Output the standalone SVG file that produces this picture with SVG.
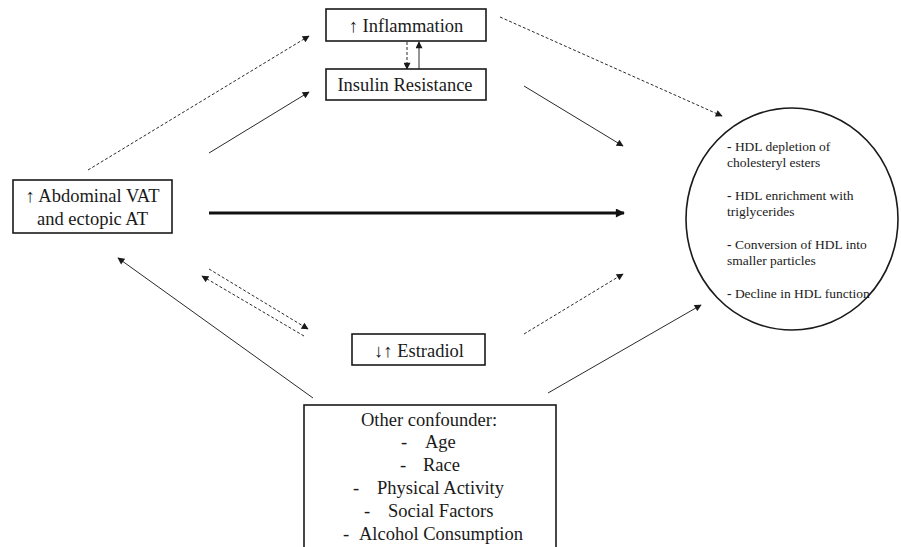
<svg xmlns="http://www.w3.org/2000/svg" width="901" height="547" viewBox="0 0 901 547">
<defs>
<marker id="ah" viewBox="0 0 10 10" refX="9" refY="5" markerWidth="8" markerHeight="7" markerUnits="userSpaceOnUse" orient="auto">
<path d="M0,0 L10,5 L0,10 z" fill="#1a1a1a"/>
</marker>
<marker id="ahb" viewBox="0 0 10 10" refX="9" refY="5" markerWidth="11" markerHeight="9" markerUnits="userSpaceOnUse" orient="auto">
<path d="M0,0 L10,5 L0,10 z" fill="#111"/>
</marker>
<style>
.box{fill:#fff;stroke:#1a1a1a;stroke-width:1.6}
.t{font-family:"Liberation Serif","Times New Roman",serif;font-size:18.5px;fill:#1a1a1a}
.s{font-family:"Liberation Serif","Times New Roman",serif;font-size:13.5px;fill:#1a1a1a}
.c{fill:none;stroke:#2a2a2a;stroke-width:1;marker-end:url(#ah)}
.d{stroke-dasharray:3 2}
</style>
</defs>
<rect width="901" height="547" fill="#fff"/>

<g id="connectors">
<line class="c d" x1="88" y1="170" x2="309" y2="36"/>
<line class="c" x1="209" y1="153" x2="309" y2="92"/>
<line class="c d" x1="407" y1="42" x2="407" y2="69"/>
<line class="c" x1="419" y1="69" x2="419" y2="42"/>
<line class="c d" x1="500" y1="17" x2="722" y2="116"/>
<line class="c" x1="524" y1="86" x2="623" y2="146"/>
<line x1="209" y1="213" x2="624" y2="213" stroke="#111" stroke-width="3" marker-end="url(#ahb)"/>
<line class="c d" x1="209" y1="269" x2="308" y2="329"/>
<line class="c d" x1="304" y1="336" x2="202" y2="276"/>
<line class="c d" x1="524" y1="334" x2="623" y2="274"/>
<line class="c" x1="313" y1="398" x2="118" y2="258"/>
<line class="c" x1="548" y1="393" x2="701" y2="305"/>
</g>

<g id="inflammation">
<rect class="box" x="326" y="9" width="160" height="32"/>
<text class="t" x="406" y="32" text-anchor="middle">↑ Inflammation</text>
</g>

<g id="insulin">
<rect class="box" x="326" y="69" width="160" height="31"/>
<text class="t" x="405" y="91" text-anchor="middle">Insulin Resistance</text>
</g>

<g id="abdominal">
<rect class="box" x="13" y="180" width="159" height="53"/>
<text class="t" x="92.5" y="202" text-anchor="middle">↑ Abdominal VAT</text>
<text class="t" x="92.5" y="225" text-anchor="middle">and ectopic AT</text>
</g>

<g id="estradiol">
<rect class="box" x="352" y="334" width="133" height="31"/>
<text class="t" x="419" y="357" text-anchor="middle">↓↑ Estradiol</text>
</g>

<g id="hdl">
<ellipse cx="792" cy="219" rx="106" ry="111" fill="#fff" stroke="#1a1a1a" stroke-width="1.6"/>
<text class="s" x="727" y="151"><tspan font-weight="bold">-</tspan> HDL depletion of</text>
<text class="s" x="727" y="167">cholesteryl esters</text>
<text class="s" x="727" y="200"><tspan font-weight="bold">-</tspan> HDL enrichment with</text>
<text class="s" x="727" y="216">triglycerides</text>
<text class="s" x="727" y="249"><tspan font-weight="bold">-</tspan> Conversion of HDL into</text>
<text class="s" x="727" y="265">smaller particles</text>
<text class="s" x="727" y="298"><tspan font-weight="bold">-</tspan> Decline in HDL function</text>
</g>

<g id="confounders">
<rect class="box" x="304" y="405" width="252" height="160"/>
<text class="t" x="429" y="426" text-anchor="middle">Other confounder:</text>
<text class="t" x="401" y="448">-</text><text class="t" x="425" y="448">Age</text>
<text class="t" x="400" y="471">-</text><text class="t" x="423" y="471">Race</text>
<text class="t" x="353" y="494">-</text><text class="t" x="377" y="494">Physical Activity</text>
<text class="t" x="364" y="517">-</text><text class="t" x="388" y="517">Social Factors</text>
<text class="t" x="343" y="540">-</text><text class="t" x="359" y="540">Alcohol Consumption</text>
</g>
</svg>
